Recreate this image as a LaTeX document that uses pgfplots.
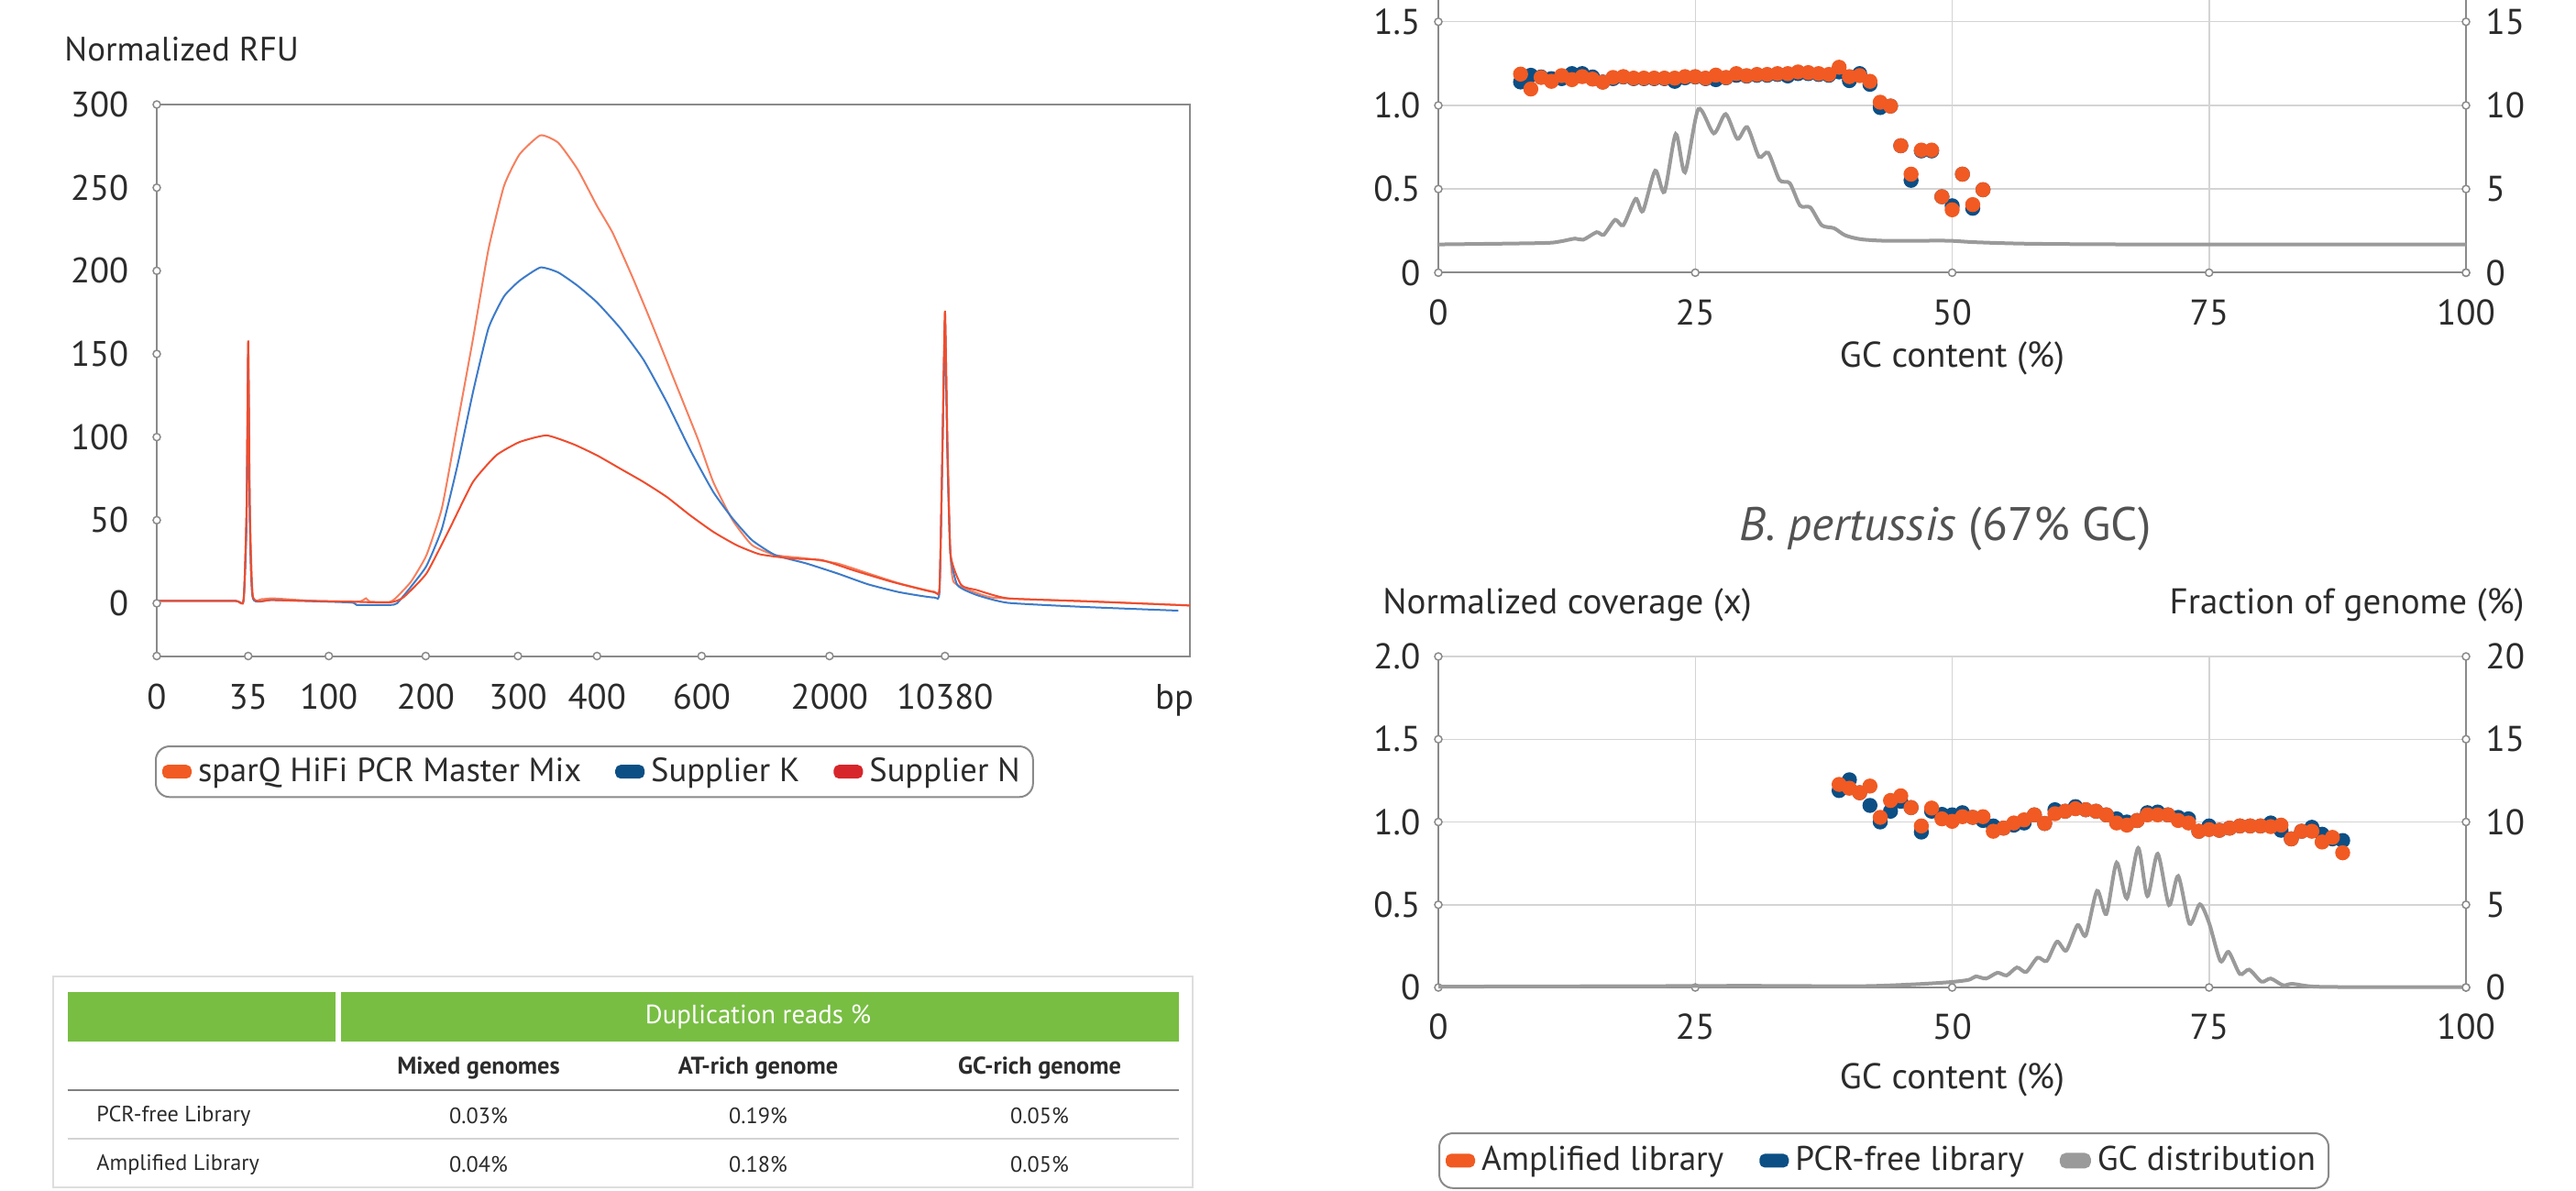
\documentclass[border=0pt]{standalone}
\usepackage{fontspec}
\setmainfont{PT Sans}
\usepackage{pgfplots}
\pgfplotsset{compat=1.18}

\definecolor{txt}{HTML}{2B2B2B}
\definecolor{axgray}{HTML}{8A8A8A}
\definecolor{gridgray}{HTML}{D4D4D4}
\definecolor{sparq}{HTML}{F15A22}
\definecolor{suppK}{HTML}{0B4F85}
\definecolor{suppN}{HTML}{D7262B}
\definecolor{lineS}{HTML}{F5805F}
\definecolor{lineK}{HTML}{3E7BC8}
\definecolor{lineN}{HTML}{EE4D2F}
\definecolor{gcgray}{HTML}{9A9A9A}
\definecolor{tabgreen}{HTML}{78BE43}

\pgfplotsset{
  tickdot/.style={only marks, mark=*, mark size=0.4mm,
    mark options={fill=white, draw=axgray, line width=0.15mm}, forget plot},
  swatch/.style={legend image code/.code={%
    \fill[#1, rounded corners=0.5mm] (0mm,-0.65mm) rectangle (3mm,0.65mm);}},
  every non boxed x axis/.append style={x axis line style={-}},
  every non boxed y axis/.append style={y axis line style={-}},
  /pgf/number format/assume math mode=true,
}

\newcommand\tabfont{\fontsize{6.9}{8}\selectfont}
\newcommand\headfont{\fontsize{7.5}{9}\selectfont\bfseries}
\newcommand\rfont{\fontsize{11.1}{13}\selectfont}

\begin{document}
\begin{tikzpicture}
\useasboundingbox (0,0) rectangle (281mm,-129.8mm);

% ---------------- electropherogram ----------------
\node[anchor=base west, text=txt, font=\fontsize{10.5}{13}\selectfont] at (5.8mm,-6.6mm) {Normalized RFU};

\begin{axis}[
  at={(17.1mm,-71.55mm)}, anchor=south west,
  scale only axis, width=112.7mm, height=60.15mm,
  xmin=0, xmax=1333, ymin=-31.7, ymax=300,
  axis line style={draw=axgray, line width=0.2mm},
  xtick={0,118,222,347,466,568,703,868,1017,1313},
  xticklabels={0,35,100,200,300,400,600,2000,10380,bp},
  ytick={0,50,100,150,200,250,300},
  major tick length=0,
  tick label style={font=\fontsize{11}{13}\selectfont, text=txt, inner sep=0pt},
  xticklabel style={text height=2.7mm, text depth=0mm, anchor=north, yshift=-3mm},
  yticklabel style={anchor=east, xshift=-3mm},
  clip=false,
  legend columns=-1,
  legend cell align=left,
  legend style={at={(axis description cs:0,0)}, anchor=north west,
    yshift=-9.75mm, xshift=-0.2mm,
    draw=axgray, line width=0.2mm, rounded corners=1.5mm,
    font=\fontsize{10.4}{13}\selectfont, text=txt,
    inner xsep=0.7mm, inner ysep=0.9mm,
    nodes={inner xsep=0.7mm, inner ysep=0.3mm},
    /tikz/every even column/.append style={column sep=3.0mm}},
]
\addplot[lineS, line width=0.2mm, smooth, tension=0.3, swatch=sparq] coordinates {
(0,1.5) (100,1.5) (112,2) (116,60) (118,157) (120,60) (124,4) (135,2.5) (150,3) (200,1.5)
(260,1) (270,3) (275,1) (300,0.8) (308,3) (328,13) (348,29) (368,57.5) (388,108) (408,159)
(428,213) (448,251) (468,270) (495,281.5) (518,277) (543,261) (568,239) (588,223) (613,197)
(638,169) (668,134) (698,99) (718,73) (743,50) (768,35) (798,29) (838,27) (878,24) (918,18)
(958,12) (1003,7) (1010,10) (1014,100) (1017,175) (1020,100) (1024,30) (1028,13) (1048,8)
(1078,3.5) (1148,2) (1248,0.3) (1333,-1.3)};
\addlegendentry{sparQ HiFi PCR Master Mix}
\addplot[lineK, line width=0.2mm, smooth, tension=0.3, swatch=suppK] coordinates {
(0,1.5) (100,1.5) (112,2) (116,50) (118,150) (120,50) (124,3) (150,2) (250,0.5) (258,-1)
(300,-1) (310,0) (328,10) (348,22.5) (368,45) (388,83) (408,127) (428,165.5) (448,184.6)
(468,194) (495,202) (518,199) (543,191) (568,181) (598,165.5) (628,146.5) (658,121)
(688,92.5) (718,67) (743,51) (768,38) (798,29) (838,24) (878,18) (918,11.4) (958,6.7)
(1003,3.5) (1010,8) (1014,100) (1017,169) (1020,90) (1024,30) (1033,11) (1058,5)
(1098,0.3) (1198,-2.2) (1318,-4.4)};
\addlegendentry{Supplier K}
\addplot[lineN, line width=0.2mm, smooth, tension=0.3, swatch=suppN] coordinates {
(0,1.5) (100,1.5) (112,2) (116,60) (118,158) (120,60) (124,4) (150,2) (250,1) (300,0.5)
(318,3.5) (348,18) (378,45) (408,73) (438,89) (468,97) (503,101) (538,95.6) (568,89)
(598,81) (628,73) (658,64) (688,53) (718,43) (748,35) (778,29.5) (818,27) (858,26) (898,20)
(948,13) (1003,6.7) (1010,10) (1014,100) (1017,176) (1020,100) (1024,30) (1038,11)
(1058,8) (1098,3) (1198,1.3) (1333,-1.3)};
\addlegendentry{Supplier N}
\addplot[tickdot] coordinates {(0,0) (0,50) (0,100) (0,150) (0,200) (0,250) (0,300)
(0,-31.7) (118,-31.7) (222,-31.7) (347,-31.7) (466,-31.7) (568,-31.7) (703,-31.7)
(868,-31.7) (1017,-31.7)};
\end{axis}

% ---------------- table ----------------
\draw[gridgray!80!black!40, line width=0.2mm] (5.75mm,-106.5mm) rectangle (130.1mm,-129.5mm);
\fill[tabgreen] (7.36mm,-108.2mm) rectangle (36.55mm,-113.6mm);
\fill[tabgreen] (37.2mm,-108.2mm) rectangle (128.6mm,-113.6mm);
\node[text=white, font=\fontsize{8.2}{10}\selectfont] at (82.7mm,-110.9mm) {Duplication reads \%};
\node[text=txt, font=\headfont] at (52.2mm,-116.5mm) {Mixed genomes};
\node[text=txt, font=\headfont] at (82.7mm,-116.5mm) {AT-rich genome};
\node[text=txt, font=\headfont] at (113.4mm,-116.5mm) {GC-rich genome};
\draw[gray, line width=0.25mm] (7.36mm,-118.9mm) -- (128.6mm,-118.9mm);
\node[anchor=west, text=txt, font=\tabfont] at (9.3mm,-121.7mm) {PCR-free Library};
\node[text=txt, font=\tabfont] at (52.2mm,-121.7mm) {0.03\%};
\node[text=txt, font=\tabfont] at (82.7mm,-121.7mm) {0.19\%};
\node[text=txt, font=\tabfont] at (113.4mm,-121.7mm) {0.05\%};
\draw[gridgray, line width=0.2mm] (7.36mm,-124.2mm) -- (128.6mm,-124.2mm);
\node[anchor=west, text=txt, font=\tabfont] at (9.3mm,-127.0mm) {Amplified Library};
\node[text=txt, font=\tabfont] at (52.2mm,-127.0mm) {0.04\%};
\node[text=txt, font=\tabfont] at (82.7mm,-127.0mm) {0.18\%};
\node[text=txt, font=\tabfont] at (113.4mm,-127.0mm) {0.05\%};

% ---------------- top right: AT-rich genome ----------------
\pgfplotsset{gcaxis/.style={
  anchor=south west, scale only axis, width=112.1mm,
  xmin=0, xmax=100,
  axis line style={draw=axgray, line width=0.2mm},
  major tick length=0,
  tick label style={font=\rfont, text=txt, inner sep=0pt},
  xticklabel style={text height=2.6mm, text depth=0mm, anchor=north, yshift=-3mm},
  clip=false}}

\begin{axis}[gcaxis, at={(156.9mm,-29.74mm)}, height=29.74mm,
  ymin=0, ymax=1.63,
  axis x line=bottom, axis y line=left,
  xtick={0,25,50,75,100}, ytick={0,0.5,1,1.5}, yticklabels={0,0.5,1.0,1.5},
  yticklabel style={anchor=east, xshift=-1.9mm},
  grid=major, grid style={draw=gridgray, line width=0.15mm},
  xlabel={GC content (\%)},
  xlabel style={at={(axis description cs:0.5,0)}, anchor=center, yshift=-9.3mm,
    font=\rfont, text=txt},
]
\addplot[only marks, mark=*, mark size=0.75mm, suppK] coordinates {
(8,1.14) (9,1.18) (10,1.17) (11,1.16) (12,1.16) (13,1.19) (14,1.19) (15,1.17) (16,1.14)
(17,1.16) (18,1.17) (19,1.16) (20,1.16) (21,1.16) (22,1.16) (23,1.144) (24,1.165) (25,1.17)
(26,1.16) (27,1.154) (28,1.165) (29,1.18) (30,1.175) (31,1.18) (32,1.18) (33,1.185)
(34,1.176) (35,1.19) (36,1.19) (37,1.185) (38,1.18) (39,1.20) (40,1.148) (41,1.19)
(42,1.126) (43,0.987) (44,0.996) (45,0.759) (46,0.552) (47,0.728) (48,0.728) (49,0.454)
(50,0.40) (51,0.589) (52,0.385) (53,0.496)};
\addplot[only marks, mark=*, mark size=0.75mm, sparq] coordinates {
(8,1.187) (9,1.098) (10,1.167) (11,1.144) (12,1.178) (13,1.154) (14,1.172) (15,1.157)
(16,1.139) (17,1.167) (18,1.172) (19,1.163) (20,1.163) (21,1.163) (22,1.163) (23,1.163)
(24,1.172) (25,1.172) (26,1.163) (27,1.181) (28,1.167) (29,1.19) (30,1.178) (31,1.185)
(32,1.185) (33,1.19) (34,1.19) (35,1.20) (36,1.196) (37,1.19) (38,1.185) (39,1.228)
(40,1.172) (41,1.178) (42,1.144) (43,1.019) (44,0.996) (45,0.759) (46,0.589) (47,0.733)
(48,0.733) (49,0.454) (50,0.376) (51,0.589) (52,0.407) (53,0.496)};
\addplot[tickdot] coordinates {(0,0) (0,0.5) (0,1) (0,1.5) (25,0) (50,0) (75,0) (100,0)};
\end{axis}

\begin{axis}[gcaxis, at={(156.9mm,-29.74mm)}, height=29.74mm,
  ymin=0, ymax=16.3,
  axis x line=none, axis y line=right,
  ytick={0,5,10,15}, yticklabel pos=right,
  yticklabel style={anchor=west, xshift=2.1mm},
]
\addplot[gcgray, line width=0.4mm, smooth, tension=0.45] coordinates {
(0,1.69) (10,1.77) (11.8,1.86) (13.3,2.04) (14.1,1.97) (15.4,2.42) (16.1,2.27) (17.2,3.16)
(18.0,2.84) (19.2,4.42) (19.9,3.68) (21.1,6.1) (22.0,4.83) (23.1,8.29) (24.0,6.0)
(25.3,9.78) (26.8,8.33) (27.96,9.48) (29.1,8.0) (30.06,8.7) (31.2,6.93) (32.1,7.17)
(33.2,5.54) (34.2,5.35) (35.2,4.01) (36.2,3.9) (37.3,2.84) (38.5,2.66) (39.6,2.23)
(41.1,2.0) (43.3,1.91) (46.3,1.91) (49.7,1.91) (52.3,1.82) (57.6,1.73) (68.8,1.69) (100,1.69)};
\addplot[tickdot] coordinates {(100,0) (100,5) (100,10) (100,15)};
\end{axis}

% ---------------- bottom right: B. pertussis ----------------
\node[anchor=base, text=black!68, font=\fontsize{14.6}{17}\selectfont] at (212.2mm,-58.9mm)
  {\itshape B. pertussis\/\upshape{} (67\% GC)};
\node[anchor=base west, text=txt, font=\rfont] at (149.6mm,-66.9mm)
  {Normalized coverage (x)};
\node[anchor=base east, text=txt, font=\rfont] at (276.6mm,-66.9mm)
  {Fraction of genome (\%)};

\begin{axis}[gcaxis, at={(156.9mm,-107.7mm)}, height=36.1mm,
  ymin=0, ymax=2,
  axis x line=bottom, axis y line=left,
  xtick={0,25,50,75,100}, ytick={0,0.5,1,1.5,2}, yticklabels={0,0.5,1.0,1.5,2.0},
  yticklabel style={anchor=east, xshift=-1.9mm},
  grid=major, grid style={draw=gridgray, line width=0.15mm},
  xlabel={GC content (\%)},
  xlabel style={at={(axis description cs:0.5,0)}, anchor=center, yshift=-10.1mm,
    font=\rfont, text=txt},
]
\addplot[only marks, mark=*, mark size=0.75mm, suppK] coordinates {
(39,1.19) (40,1.255) (41,1.177) (42,1.10) (43,1.0) (44,1.065) (45,1.125) (46,1.087)
(47,0.939) (48,1.065) (49,1.046) (50,1.043) (51,1.056) (52,1.028) (53,1.009) (54,0.976)
(55,0.963) (56,0.981) (57,0.994) (58,1.043) (59,0.991) (60,1.074) (61,1.065) (62,1.093)
(63,1.074) (64,1.065) (65,1.043) (66,1.019) (67,1.0) (68,1.009) (69,1.056) (70,1.06)
(71,1.043) (72,1.028) (73,1.019) (74,0.944) (75,0.976) (76,0.95) (77,0.963) (78,0.976)
(79,0.976) (80,0.976) (81,0.994) (82,0.95) (83,0.898) (84,0.944) (85,0.968) (86,0.926)
(87,0.898) (88,0.888)};
\addplot[only marks, mark=*, mark size=0.75mm, sparq] coordinates {
(39,1.227) (40,1.204) (41,1.177) (42,1.217) (43,1.028) (44,1.13) (45,1.158) (46,1.087)
(47,0.976) (48,1.084) (49,1.019) (50,1.004) (51,1.032) (52,1.028) (53,1.032) (54,0.944)
(55,0.963) (56,0.994) (57,1.013) (58,1.043) (59,0.991) (60,1.05) (61,1.065) (62,1.08)
(63,1.074) (64,1.065) (65,1.043) (66,0.994) (67,0.981) (68,1.009) (69,1.043) (70,1.043)
(71,1.043) (72,1.009) (73,0.994) (74,0.944) (75,0.954) (76,0.95) (77,0.963) (78,0.976)
(79,0.976) (80,0.976) (81,0.972) (82,0.981) (83,0.898) (84,0.944) (85,0.944) (86,0.879)
(87,0.907) (88,0.814)};
\addplot[tickdot] coordinates {(0,0) (0,0.5) (0,1) (0,1.5) (0,2) (25,0) (50,0) (75,0) (100,0)};
\end{axis}

\begin{axis}[gcaxis, at={(156.9mm,-107.7mm)}, height=36.1mm,
  ymin=0, ymax=20,
  axis x line=none, axis y line=right,
  ytick={0,5,10,15,20}, yticklabel pos=right,
  yticklabel style={anchor=west, xshift=2.1mm},
  legend columns=-1,
  legend cell align=left,
  legend style={at={(axis description cs:0,0)}, anchor=north west,
    yshift=-15.8mm, xshift=0mm,
    draw=axgray, line width=0.2mm, rounded corners=1.5mm,
    font=\fontsize{10.6}{12}\selectfont, text=txt,
    inner xsep=0.7mm, inner ysep=1.1mm,
    nodes={inner xsep=0.7mm, inner ysep=0.3mm},
    /tikz/every even column/.append style={column sep=3.2mm}},
]
\addlegendimage{swatch=sparq}
\addlegendentry{Amplified library}
\addlegendimage{swatch=suppK}
\addlegendentry{PCR-free library}
\addplot[gcgray, line width=0.4mm, smooth, tension=0.45, swatch=gcgray] coordinates {
(0,0.05) (20,0.08) (30,0.1) (41.1,0.08) (46.3,0.19) (49.7,0.32) (51.6,0.46) (52.3,0.67)
(53.3,0.54) (54.4,0.89) (55.3,0.73) (56.3,1.21) (57.2,0.94) (58.3,1.8) (59.2,1.6)
(60.2,2.77) (61.1,2.23) (62.2,3.77) (63.0,3.15) (64.1,5.84) (65.0,4.44) (66.0,7.54)
(67.0,5.38) (68.1,8.43) (69.0,5.52) (70.0,8.08) (71.1,4.98) (72.0,6.73) (73.1,3.85)
(74.1,5.03) (75.0,3.9) (76.1,1.6) (76.9,2.15) (78.0,0.81) (78.9,1.08) (80.1,0.35)
(81.0,0.54) (82.2,0.13) (83.1,0.22) (85.3,0.05) (91.3,0.02) (100,0.02)};
\addlegendentry{GC distribution}
\addplot[tickdot] coordinates {(100,0) (100,5) (100,10) (100,15) (100,20)};
\end{axis}
\end{tikzpicture}
\end{document}
